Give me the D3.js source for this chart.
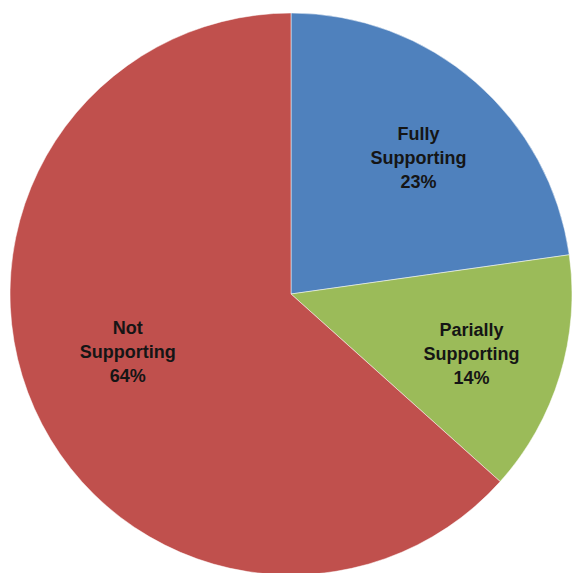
<!DOCTYPE html>
<html>
<head>
<meta charset="utf-8">
<script src="https://cdn.jsdelivr.net/npm/d3@7"></script>
<style>
  html, body { margin: 0; padding: 0; background: #ffffff; }
  svg { display: block; }
</style>
</head>
<body>
<svg id="chart" width="572" height="573"></svg>
<script>
// Data
const categories = ["Fully Supporting", "Parially Supporting", "Not Supporting"];
const labelLines = [["Fully", "Supporting"], ["Parially", "Supporting"], ["Not", "Supporting"]];
const values = [23, 14, 64];
const colors = ["#4F81BD", "#9BBB59", "#C0504D"];

const svg = d3.select("#chart");
const cx = 291, cy = 294, R = 281;
const g = svg.append("g").attr("transform", `translate(${cx},${cy})`);

const pie = d3.pie().sort(null).value(d => d);
const arcs = pie(values);
const arc = d3.arc().innerRadius(0).outerRadius(R);

g.selectAll("path.slice")
  .data(arcs)
  .join("path")
  .attr("class", "slice")
  .attr("d", arc)
  .attr("fill", (d, i) => colors[i])
  .attr("stroke", "#ffffff")
  .attr("stroke-opacity", 0.5)
  .attr("stroke-width", 1);

// label placement: radius fraction of R plus small nudge
const labelR = [0.665, 0.69, 0.566];
const nudge = [[5, 5], [-5, 4], [-18, -7]];
const lineH = 24;
arcs.forEach((d, i) => {
  const la = d3.arc().innerRadius(R * labelR[i]).outerRadius(R * labelR[i]);
  let [x, y] = la.centroid(d);
  x += nudge[i][0]; y += nudge[i][1];
  const lines = labelLines[i].concat([values[i] + "%"]);
  const t = g.append("text")
    .attr("text-anchor", "middle")
    .attr("font-family", "Liberation Sans, Arial, sans-serif")
    .attr("font-weight", "bold")
    .attr("font-size", 18)
    .attr("fill", "#151515");
  lines.forEach((s, k) => {
    t.append("tspan")
      .attr("x", x)
      .attr("y", y + (k - 1) * lineH + 6)
      .text(s);
  });
});
</script>
</body>
</html>
